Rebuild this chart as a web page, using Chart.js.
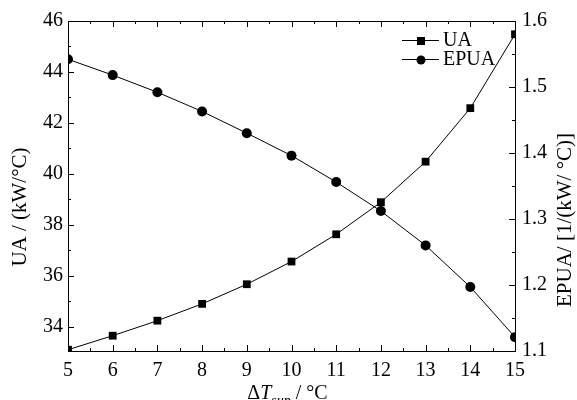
<!DOCTYPE html>
<html>
<head>
<meta charset="utf-8">
<script src="https://cdn.jsdelivr.net/npm/chart.js@4.4.0/dist/chart.umd.min.js"></script>
<style>
  html, body { margin: 0; padding: 0; background: #fff; }
  #wrap { width: 577px; height: 400px; }
</style>
</head>
<body>
<div id="wrap"><canvas id="chart" width="577" height="400"></canvas></div>
<script>
// data
const deltaT = [5, 6, 7, 8, 9, 10, 11, 12, 13, 14, 15];
const uaValues = [33.1, 33.65, 34.24, 34.9, 35.67, 36.56, 37.63, 38.89, 40.48, 42.58, 45.48];
const epuaValues = [1.542, 1.518, 1.492, 1.463, 1.430, 1.396, 1.356, 1.312, 1.260, 1.197, 1.121];

const xTicks = [5, 6, 7, 8, 9, 10, 11, 12, 13, 14, 15];
const uaTicks = [34, 36, 38, 40, 42, 44, 46];
const epuaTicks = [1.1, 1.2, 1.3, 1.4, 1.5, 1.6];

const serif = "'Liberation Serif', 'DejaVu Serif', serif";
const tickFont = { family: "Liberation Serif", size: 20 };

// minor ticks halfway between the majors
function midpoints(arr) {
    const out = [];
    for (let i = 0; i < arr.length - 1; i++) out.push((arr[i] + arr[i + 1]) / 2);
    return out;
}

const frameAndTicks = {
    id: 'frameAndTicks',
    afterDraw(chart) {
        const ctx = chart.ctx;
        const a = chart.chartArea;
        const xs = chart.scales.x;
        const yl = chart.scales.y;
        const yr = chart.scales.y1;
        ctx.save();
        ctx.strokeStyle = '#000';
        ctx.lineWidth = 1;
        ctx.strokeRect(a.left + 0.5, a.top + 0.5, a.right - a.left, a.bottom - a.top);

        ctx.beginPath();
        const tick = (x1, y1, x2, y2) => { ctx.moveTo(x1, y1); ctx.lineTo(x2, y2); };
        // bottom and top
        xTicks.forEach(v => {
            const p = Math.round(xs.getPixelForValue(v)) + 0.5;
            tick(p, a.bottom, p, a.bottom - 6);
            tick(p, a.top, p, a.top + 6);
        });
        midpoints(xTicks).forEach(v => {
            const p = Math.round(xs.getPixelForValue(v)) + 0.5;
            tick(p, a.bottom, p, a.bottom - 3);
            tick(p, a.top, p, a.top + 3);
        });
        // left
        uaTicks.forEach(v => {
            const p = Math.round(yl.getPixelForValue(v)) + 0.5;
            tick(a.left, p, a.left + 6, p);
        });
        midpoints(uaTicks).forEach(v => {
            const p = Math.round(yl.getPixelForValue(v)) + 0.5;
            tick(a.left, p, a.left + 3, p);
        });
        // right
        epuaTicks.forEach(v => {
            const p = Math.round(yr.getPixelForValue(v)) + 0.5;
            tick(a.right, p, a.right - 6, p);
        });
        midpoints(epuaTicks).forEach(v => {
            const p = Math.round(yr.getPixelForValue(v)) + 0.5;
            tick(a.right, p, a.right - 3, p);
        });
        ctx.stroke();

        // legend
        ctx.font = '20px ' + serif;
        ctx.fillStyle = '#000';
        ctx.textBaseline = 'middle';
        const items = [
            { label: 'UA', style: 'rect', y: 40 },
            { label: 'EPUA', style: 'circle', y: 59 }
        ];
        items.forEach(it => {
            ctx.beginPath();
            ctx.moveTo(402, it.y + 0.5);
            ctx.lineTo(439, it.y + 0.5);
            ctx.stroke();
            ctx.beginPath();
            if (it.style === 'rect') {
                ctx.fillRect(417, it.y - 3, 8, 8);
            } else {
                ctx.arc(421, it.y + 1, 4.5, 0, Math.PI * 2);
                ctx.fill();
            }
            ctx.fillText(it.label, 443, it.y + 1);
        });

        // axis titles
        ctx.font = '21px ' + serif;
        ctx.textBaseline = 'middle';
        ctx.textAlign = 'center';
        ctx.save();
        ctx.translate(20, 207);
        ctx.rotate(-Math.PI / 2);
        ctx.fillText('UA / (kW/°C)', 0, 0);
        ctx.restore();

        ctx.save();
        ctx.translate(565, 220);
        ctx.rotate(-Math.PI / 2);
        ctx.fillText('EPUA/ [1/(kW/ °C)]', 0, 0);
        ctx.restore();

        // x title with italic T and subscript
        ctx.textAlign = 'left';
        ctx.textBaseline = 'alphabetic';
        const parts = [
            { t: 'Δ', f: '20px ' + serif, dy: 0 },
            { t: 'T', f: 'italic 20px ' + serif, dy: 0 },
            { t: 'sup', f: 'italic 14px ' + serif, dy: 6 },
            { t: ' / °C', f: '20px ' + serif, dy: 0 }
        ];
        let w = 0;
        parts.forEach(p => { ctx.font = p.f; w += ctx.measureText(p.t).width; });
        let x = (a.left + a.right) / 2 - 4 - w / 2;
        parts.forEach(p => {
            ctx.font = p.f;
            ctx.fillText(p.t, x, 399 + p.dy);
            x += ctx.measureText(p.t).width;
        });
        ctx.restore();
    }
};

new Chart(document.getElementById('chart'), {
    type: 'line',
    data: {
        datasets: [
            {
                label: 'UA',
                data: deltaT.map((t, i) => ({ x: t, y: uaValues[i] })),
                yAxisID: 'y',
                borderColor: '#000',
                backgroundColor: '#000',
                borderWidth: 1,
                pointStyle: 'rect',
                pointRadius: 5.5,
                pointBorderWidth: 0,
                tension: 0
            },
            {
                label: 'EPUA',
                data: deltaT.map((t, i) => ({ x: t, y: epuaValues[i] })),
                yAxisID: 'y1',
                borderColor: '#000',
                backgroundColor: '#000',
                borderWidth: 1,
                pointStyle: 'circle',
                pointRadius: 5,
                pointBorderWidth: 0,
                tension: 0
            }
        ]
    },
    options: {
        responsive: false,
        animation: false,
        layout: { padding: { top: 21, left: 0, right: 0, bottom: 0 } },
        plugins: {
            legend: { display: false },
            tooltip: { enabled: false }
        },
        scales: {
            x: {
                type: 'linear',
                min: 5,
                max: 15,
                afterBuildTicks: s => { s.ticks = xTicks.map(v => ({ value: v })); },
                afterFit: s => { s.height = 49; },
                grid: { display: false, drawTicks: false },
                border: { display: false },
                ticks: { color: '#000', font: tickFont, padding: 8, maxRotation: 0, callback: v => String(v) }
            },
            y: {
                position: 'left',
                min: 33.05,
                max: 46,
                afterBuildTicks: s => { s.ticks = uaTicks.map(v => ({ value: v })); },
                afterFit: s => { s.width = 68; },
                grid: { display: false, drawTicks: false },
                border: { display: false },
                ticks: { color: '#000', font: tickFont, padding: 5, callback: v => String(v) }
            },
            y1: {
                position: 'right',
                min: 1.1,
                max: 1.6,
                afterBuildTicks: s => { s.ticks = epuaTicks.map(v => ({ value: v })); },
                afterFit: s => { s.width = 62; },
                grid: { display: false, drawTicks: false },
                border: { display: false },
                ticks: { color: '#000', font: tickFont, padding: 7, callback: v => Number(v).toFixed(1) }
            }
        }
    },
    plugins: [frameAndTicks]
});
</script>
</body>
</html>
